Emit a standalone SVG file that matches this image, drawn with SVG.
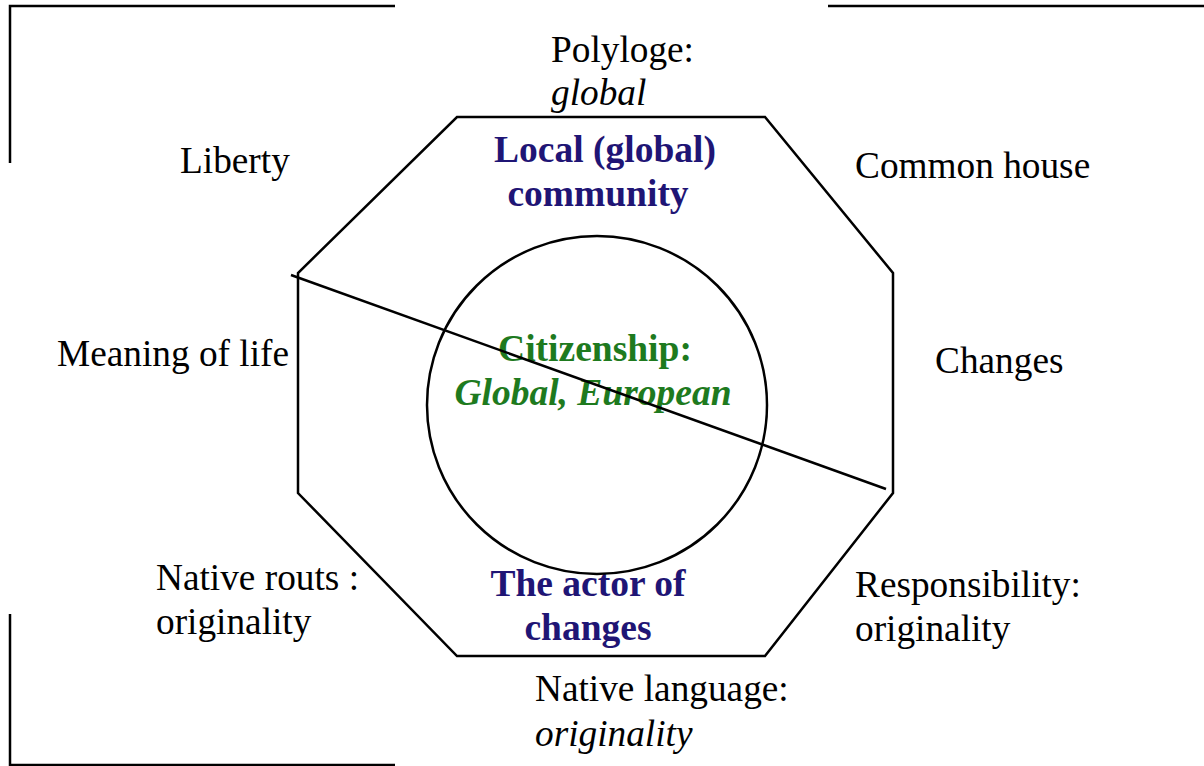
<svg xmlns="http://www.w3.org/2000/svg" width="1204" height="766" viewBox="0 0 1204 766">
<style>
.ln{fill:none;stroke:#000;stroke-width:2.5}
.t{font-family:"Liberation Serif","Times New Roman",serif;font-size:37.3px;fill:#000}
.i{font-style:italic}
.nv{font-family:"Liberation Serif","Times New Roman",serif;font-size:37.5px;font-weight:bold;fill:#1f1575;text-anchor:middle}
.gr{font-family:"Liberation Serif","Times New Roman",serif;font-size:37.5px;font-weight:bold;fill:#1e7a1e;text-anchor:middle}
</style>
<rect width="1204" height="766" fill="#fff"/>
<g id="frame">
<path class="ln" d="M10,163 V6 H395"/>
<path class="ln" d="M828,6 H1204"/>
<path class="ln" d="M10,614 V765 H395"/>
</g>
<g id="octagon">
<polygon class="ln" points="457,117 765,117 893,273 893,493 765,656 457,656 298,493 298,273"/>
<text class="nv" x="605" y="162">Local (global)</text>
<text class="nv" x="598" y="206">community</text>
<text class="nv" x="588" y="596">The actor of</text>
<text class="nv" x="588" y="640">changes</text>
</g>
<g id="circle">
<ellipse class="ln" cx="597" cy="405" rx="170" ry="169"/>
<text class="gr" x="595" y="361">Citizenship:</text>
<text class="gr i" x="593" y="405">Global, European</text>
</g>
<g id="connectors">
<line class="ln" x1="291" y1="275" x2="886" y2="489"/>
</g>
<g id="labels">
<text class="t" x="551" y="62">Polyloge:</text>
<text class="t i" x="551" y="105">global</text>
<text class="t" x="180" y="173">Liberty</text>
<text class="t" x="855" y="178">Common house</text>
<text class="t" x="57" y="366">Meaning of life</text>
<text class="t" x="935" y="373">Changes</text>
<text class="t" x="156" y="590">Native routs :</text>
<text class="t" x="156" y="634">originality</text>
<text class="t" x="855" y="597">Responsibility:</text>
<text class="t" x="855" y="641">originality</text>
<text class="t" x="535" y="701">Native language:</text>
<text class="t i" x="535" y="746">originality</text>
</g>
</svg>
